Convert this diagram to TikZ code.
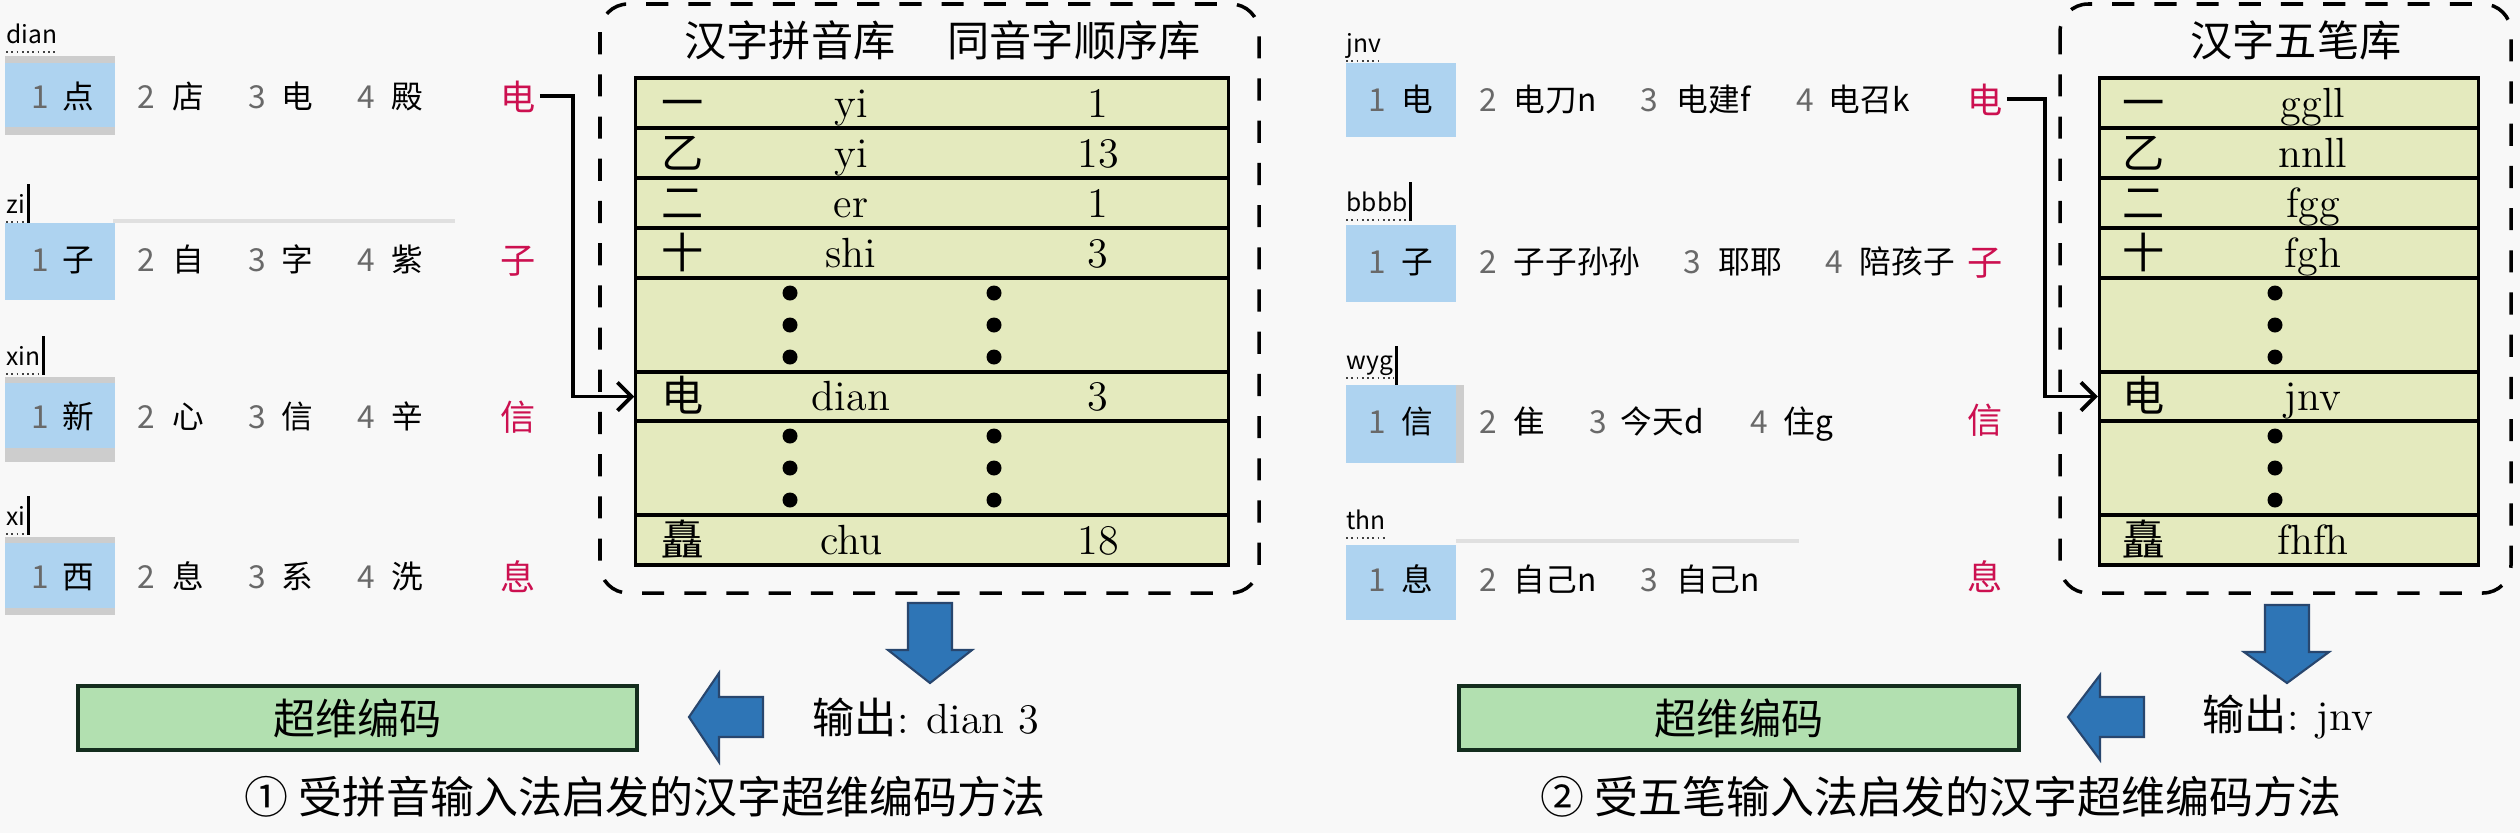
\documentclass[tikz,border=0pt]{standalone}
\usepackage{fontspec}
\usetikzlibrary{arrows.meta}
\newfontfamily\cjk{Noto Sans CJK SC}
\definecolor{bgc}{RGB}{248,248,248}
\definecolor{tblc}{RGB}{228,234,190}
\definecolor{grnc}{RGB}{178,224,176}
\definecolor{hlc}{RGB}{174,211,240}
\definecolor{hlg}{RGB}{205,205,205}
\definecolor{redc}{RGB}{204,16,80}
\definecolor{arrc}{RGB}{46,117,182}
\definecolor{arrd}{RGB}{40,70,110}
\definecolor{digitc}{RGB}{105,105,105}
\definecolor{boxd}{RGB}{20,45,30}
\begin{document}
\begin{tikzpicture}[x=0.01cm,y=-0.01cm,
  cand/.style={font=\cjk\fontsize{9}{10}\selectfont, inner sep=0pt, anchor=base},
  cw/.style={cand, anchor=base west},
  dig/.style={cand, text=digitc},
  lab/.style={font=\cjk\fontsize{7}{8}\selectfont, inner sep=0pt, anchor=base west},
  cursorn/.style={fill=black, inner sep=0pt, minimum width=0.9pt, minimum height=11pt, anchor=west},
  redch/.style={font=\cjk\fontsize{10}{12}\selectfont, text=redc, inner sep=1pt, anchor=base},
  ttxt/.style={font=\fontsize{12}{14}\selectfont, inner sep=0pt, anchor=base},
  tcjk/.style={font=\cjk\fontsize{12}{14}\selectfont, inner sep=0pt, anchor=base},
  trow/.style={draw=black, fill=tblc, line width=0.9pt, inner sep=0pt},
  dbox/.style={draw=black, line width=1pt, dash pattern=on 6.3pt off 5.7pt, rounded corners=8pt},
  conn/.style={line width=1.1pt, -{Straight Barb[length=4pt,width=8pt]}},
  barrow/.style={fill=arrc, draw=arrd, line width=0.6pt},
  gbox/.style={draw=boxd, fill=grnc, line width=1pt, inner sep=0pt, minimum height=0.64cm, font=\cjk\fontsize{12}{14}\selectfont},
  uline/.style={densely dotted, line width=0.5pt, black!75},
  sepl/.style={draw=black!12, line width=1pt}
]
\fill[bgc] (0,0) rectangle (2520,833);
\useasboundingbox (0,0) rectangle (2520,833);

% ================= LEFT PANEL =================
% highlights
\fill[hlg] (5,56) rectangle (115,135); \fill[hlc] (5,63) rectangle (115,127);
\fill[hlc] (5,223) rectangle (115,300);
\fill[hlg] (5,377) rectangle (115,462); \fill[hlc] (5,383) rectangle (115,448);
\fill[hlg] (5,537) rectangle (115,615); \fill[hlc] (5,543) rectangle (115,608);
\draw[sepl] (113,221) -- (455,221);

% input labels
\node[lab] (ll1) at (6,43) {dian};
\node[lab] (ll2) at (6,213) {zi};
\node[lab] (ll3) at (6,365) {xin};
\node[lab] (ll4) at (6,525) {xi};
\foreach \i in {1,2,3,4}{\draw[uline] ([yshift=-2.5pt]ll\i.base west) -- ([yshift=-2.5pt]ll\i.base east);}
\node[cursorn] (lcu2) at (ll2.east) {};
\node[cursorn] (lcu3) at (ll3.east) {};
\node[cursorn] (lcu4) at (ll4.east) {};

% candidates
\foreach \y/\a/\b/\c/\d/\r [count=\i] in {97/点/店/电/殿/电,260/子/自/字/紫/子,417/新/心/信/辛/信,577/西/息/系/洗/息}{
  \node[dig] (ld\i a) at (40,{\y+11}) {1};
  \node[cand] (lc\i a) at (78,{\y+11}) {\a};
  \node[dig] (ld\i b) at (146,{\y+11}) {2};
  \node[cand] (lc\i b) at (188,{\y+11}) {\b};
  \node[dig] (ld\i c) at (257,{\y+11}) {3};
  \node[cand] (lc\i c) at (297,{\y+11}) {\c};
  \node[dig] (ld\i d) at (366,{\y+11}) {4};
  \node[cand] (lc\i d) at (407,{\y+11}) {\d};
  \node[redch] (lr\i) at (518,{\y+13}) {\r};
}

% dashed frame and titles
\draw[dbox] (600,4) rectangle (1259,593);
\node[tcjk] (lt1t) at (790,56) {汉字拼音库};
\node[tcjk] (lt2t) at (1074,56) {同音字顺序库};

% table rows
\foreach \n/\c/\h in {1/103/0.5,2/153/0.5,3/203/0.5,4/253/0.5,5/325/0.94,6/396.5/0.49,7/468/0.94,8/540/0.5}{
  \node[trow, minimum width=5.92cm, minimum height=\h cm] (lt\n) at (932,\c) {};
}
\foreach \c/\a/\b/\d [count=\i] in {103/一/yi/1,153/乙/yi/13,203/二/er/1,253/十/shi/3,396.5/电/dian/3,540/矗/chu/18}{
  \node[tcjk] (lta\i) at (683,{\c+15}) {\a};
  \node[ttxt] (ltb\i) at (851,{\c+14}) {\b};
  \node[ttxt] (ltc\i) at (1098,{\c+14}) {\d};
}
\foreach \y in {293,325,357,436,468,500}{
  \fill (790,\y) circle[radius=0.075cm];
  \fill (994,\y) circle[radius=0.075cm];
}

% connector
\coordinate (lbend) at (573,396.5);
\draw[conn] (lr1.east) -| (lbend) -- (lt6.west);

% block arrows
\draw[barrow] (908,603) -- (952,603) -- (952,650) -- (972,650) -- (930,683) -- (888,650) -- (908,650) -- cycle;
\draw[barrow] (763,697) -- (763,737) -- (719,737) -- (719,762) -- (689,717) -- (719,673) -- (719,697) -- cycle;

\node[gbox, minimum width=5.59cm] (lcode) at (357.5,718) {超维编码};
\node[ttxt, anchor=center] (lout) at (926,717) {{\cjk 输出}: dian 3};
\node[font=\cjk\fontsize{12.5}{14}\selectfont, inner sep=0pt] (lcap) at (645,797) {① 受拼音输入法启发的汉字超维编码方法};

% ================= RIGHT PANEL =================
\fill[hlc] (1346,63) rectangle (1456,137);
\fill[hlc] (1346,225) rectangle (1456,302);
\fill[hlg] (1346,385) rectangle (1464,463); \fill[hlc] (1346,385) rectangle (1456,463);
\fill[hlc] (1346,545) rectangle (1456,620);
\draw[sepl] (1456,541) -- (1799,541);

\node[lab] (rl1) at (1346,52) {jnv};
\node[lab] (rl2) at (1346,211) {bbbb};
\node[lab] (rl3) at (1346,369) {wyg};
\node[lab] (rl4) at (1346,529) {thn};
\foreach \i in {1,2,3,4}{\draw[uline] ([yshift=-2.5pt]rl\i.base west) -- ([yshift=-2.5pt]rl\i.base east);}
\node[cursorn] (rcu2) at (rl2.east) {};
\node[cursorn] (rcu3) at (rl3.east) {};

% row 1
\node[dig] (rd1a) at (1377,111) {1}; \node[cand] (rc1a) at (1417,111) {电};
\node[dig] (rd1b) at (1488,111) {2}; \node[cw] (rc1b) at (1513,111) {电刀n};
\node[dig] (rd1c) at (1649,111) {3}; \node[cw] (rc1c) at (1676,111) {电建f};
\node[dig] (rd1d) at (1805,111) {4}; \node[cw] (rc1d) at (1828,111) {电召k};
% row 2
\node[dig] (rd2a) at (1377,273) {1}; \node[cand] (rc2a) at (1417,273) {子};
\node[dig] (rd2b) at (1488,273) {2}; \node[cw] (rc2b) at (1513,273) {子子孙孙};
\node[dig] (rd2c) at (1692,273) {3}; \node[cw] (rc2c) at (1718,273) {耶耶};
\node[dig] (rd2d) at (1834,273) {4}; \node[cw] (rc2d) at (1859,273) {陪孩子};
% row 3
\node[dig] (rd3a) at (1377,433) {1}; \node[cand] (rc3a) at (1417,433) {信};
\node[dig] (rd3b) at (1488,433) {2}; \node[cw] (rc3b) at (1513,433) {隹};
\node[dig] (rd3c) at (1598,433) {3}; \node[cw] (rc3c) at (1620,433) {今天d};
\node[dig] (rd3d) at (1759,433) {4}; \node[cw] (rc3d) at (1783,433) {住g};
% row 4
\node[dig] (rd4a) at (1377,591) {1}; \node[cand] (rc4a) at (1417,591) {息};
\node[dig] (rd4b) at (1488,591) {2}; \node[cw] (rc4b) at (1513,591) {自己n};
\node[dig] (rd4c) at (1649,591) {3}; \node[cw] (rc4c) at (1676,591) {自己n};

\foreach \y/\r [count=\i] in {100/电,262/子,420/信,577/息}{
  \node[redch] (rr\i) at (1985,{\y+13}) {\r};
}

\draw[dbox] (2060,4) rectangle (2511,593);
\node[tcjk] (rtt) at (2296,56) {汉字五笔库};

\foreach \n/\c/\h in {1/103/0.5,2/153/0.5,3/203/0.5,4/253/0.5,5/325/0.94,6/396.5/0.49,7/468/0.94,8/540/0.5}{
  \node[trow, minimum width=3.79cm, minimum height=\h cm] (rt\n) at (2289,\c) {};
}
\foreach \c/\a/\b [count=\i] in {103/一/ggll,153/乙/nnll,203/二/fgg,253/十/fgh,396.5/电/jnv,540/矗/fhfh}{
  \node[tcjk] (rta\i) at (2144,{\c+15}) {\a};
  \node[ttxt] (rtb\i) at (2313,{\c+14}) {\b};
}
\foreach \y in {293,325,357,436,468,500}{
  \fill (2275,\y) circle[radius=0.075cm];
}

\coordinate (rbend) at (2045,396.5);
\draw[conn] (rr1.east) -| (rbend) -- (rt6.west);

\draw[barrow] (2265,605) -- (2309,605) -- (2309,652) -- (2329,652) -- (2287,683) -- (2244,652) -- (2265,652) -- cycle;
\draw[barrow] (2144,697) -- (2144,737) -- (2100,737) -- (2100,760) -- (2068,717) -- (2100,675) -- (2100,697) -- cycle;

\node[gbox, minimum width=5.6cm] (rcode) at (1739,718) {超维编码};
\node[ttxt, anchor=center] (rout) at (2288,717) {{\cjk 输出}: jnv};
\node[font=\cjk\fontsize{12.5}{14}\selectfont, inner sep=0pt] (rcap) at (1941,797) {② 受五笔输入法启发的汉字超维编码方法};
\end{tikzpicture}
\end{document}
